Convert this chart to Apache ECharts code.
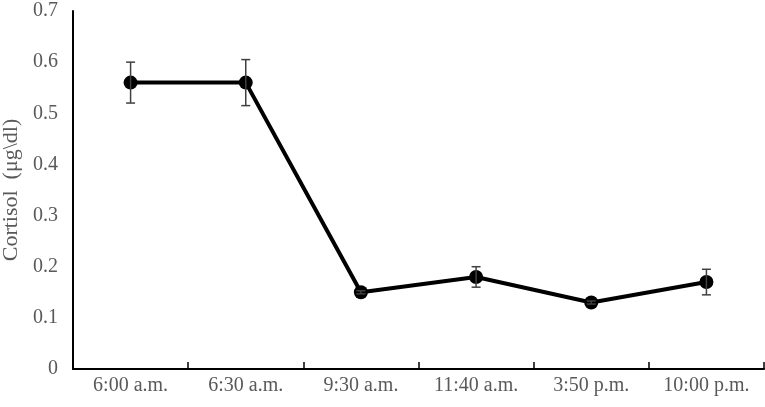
<!DOCTYPE html>
<html><head><meta charset="utf-8">
<script src="https://cdn.jsdelivr.net/npm/echarts@6/dist/echarts.min.js"></script>
<style>html,body{margin:0;padding:0;background:#fff}#c{width:765px;height:407px}</style>
</head><body><div id="c"></div>
<script>
const categories = ['6:00 a.m.', '6:30 a.m.', '9:30 a.m.', '11:40 a.m.', '3:50 p.m.', '10:00 p.m.'];
const cortisol = [0.56, 0.56, 0.15, 0.18, 0.13, 0.17];
const errors = [0.04, 0.045, 0.003, 0.02, 0.003, 0.025];
const yTicks = [0, 0.1, 0.2, 0.3, 0.4, 0.5, 0.6, 0.7];

const errData = cortisol.map((v, i) => [i, v - errors[i], v + errors[i]]);
const font = '"Liberation Serif", "Times New Roman", serif';
const chart = echarts.init(document.getElementById('c'));
chart.setOption({
  animation: false,
  grid: { left: 73, right: 1, top: 11, bottom: 38, containLabel: false, outerBoundsMode: 'none' },
  xAxis: {
    type: 'category', data: categories, boundaryGap: true,
    axisLine: { lineStyle: { color: '#000', width: 2 } },
    axisTick: { show: true, inside: true, length: 7, lineStyle: { color: '#000', width: 1.5 } },
    axisLabel: { color: '#595959', fontFamily: font, fontSize: 20, margin: 7 },
    splitLine: { show: false }
  },
  yAxis: {
    type: 'value', min: yTicks[0], max: yTicks[yTicks.length - 1], interval: 0.1,
    name: 'Cortisol  (μg\\dl)', nameLocation: 'middle', nameGap: 47,
    nameTextStyle: { color: '#595959', fontFamily: font, fontSize: 22 },
    axisLine: { show: true, lineStyle: { color: '#000', width: 2 } },
    axisTick: { show: false },
    axisLabel: { color: '#595959', fontFamily: font, fontSize: 20, margin: 15,
      formatter: v => String(Math.round(v * 10) / 10) },
    splitLine: { show: false }
  },
  series: [
    {
      type: 'line', data: cortisol, symbol: 'circle', symbolSize: 14,
      lineStyle: { color: '#000', width: 4 }, itemStyle: { color: '#000' }, z: 3
    },
    {
      type: 'custom', data: errData, z: 4,
      renderItem: (params, api) => {
        const x = api.value(0);
        const lo = api.coord([x, api.value(1)]);
        const hi = api.coord([x, api.value(2)]);
        const w = 4.5;
        const st = { stroke: '#404040', lineWidth: 1.5 };
        return { type: 'group', children: [
          { type: 'line', shape: { x1: lo[0], y1: lo[1], x2: hi[0], y2: hi[1] }, style: st },
          { type: 'line', shape: { x1: lo[0] - w, y1: lo[1], x2: lo[0] + w, y2: lo[1] }, style: st },
          { type: 'line', shape: { x1: hi[0] - w, y1: hi[1], x2: hi[0] + w, y2: hi[1] }, style: st }
        ]};
      }
    }
  ]
});
</script></body></html>
